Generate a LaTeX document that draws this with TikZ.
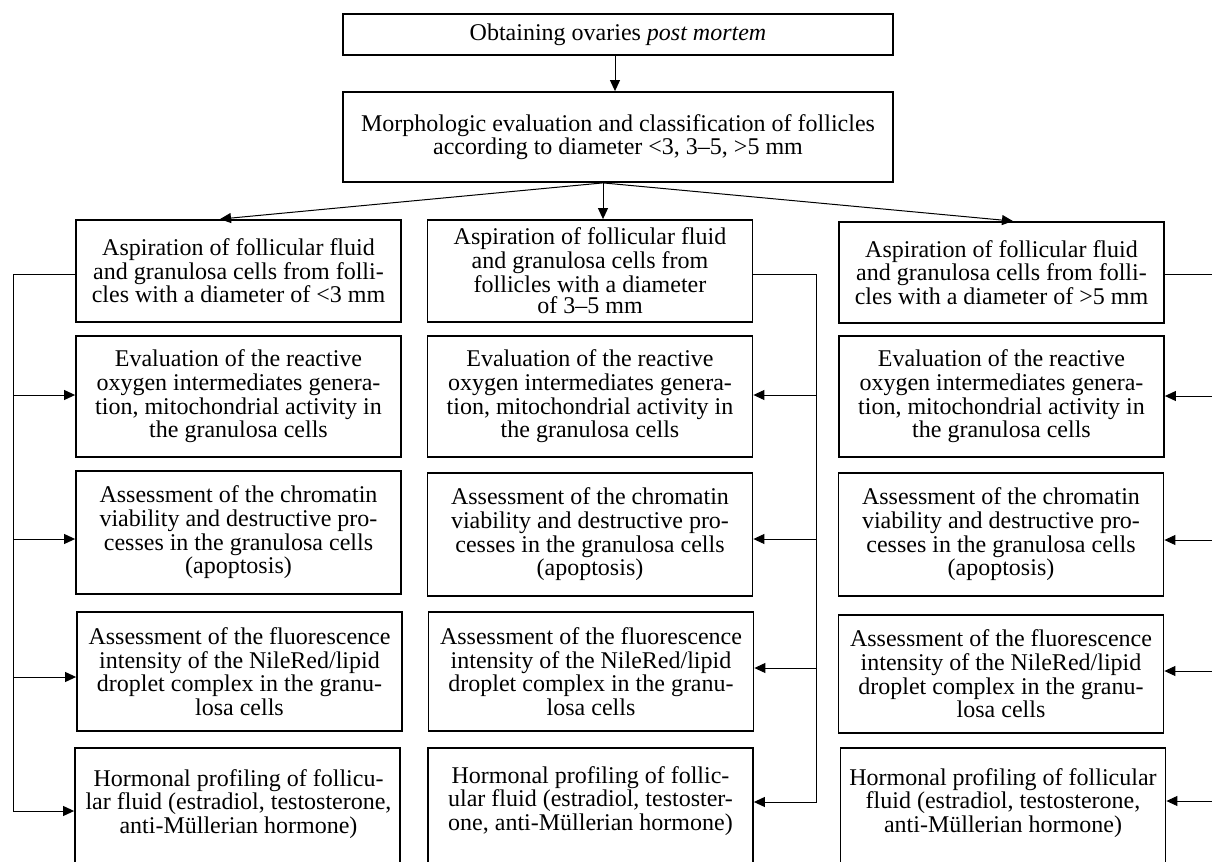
\documentclass[tikz,border=0pt]{standalone}
\usepackage{fontspec}
\setmainfont{Liberation Serif}
\usetikzlibrary{arrows.meta}
\begin{document}
\begin{tikzpicture}[x=0.5pt,y=-0.5pt,
  txtfont/.style={font=\fontsize{12pt}{11.8pt}\selectfont},
  box/.style={draw, line width=0.9pt, inner sep=0pt, align=center, txtfont},
  colbox/.style={box, minimum width=162.5pt},
  txt/.style={inner sep=0pt, align=center, txtfont},
  conn/.style={line width=0.5pt},
  arr/.style={conn, -{Triangle[length=5.5pt,width=5pt]}},
]
\useasboundingbox (0,0) rectangle (1212,862);
\begin{scope}
\clip (0,0) rectangle (1212,862);

% top boxes
\node[box, minimum width=275pt, minimum height=20.5pt] (top) at (618,34.5) {Obtaining ovaries \textit{post mortem}};
\node[box, minimum width=275pt, minimum height=45pt] (morph) at (618,137) {Morphologic evaluation and classification of follicles\\according to diameter <3, 3--5, >5 mm};

% column 1
\node[colbox, minimum height=51pt] (c1a) at (238.5,271) {Aspiration of follicular fluid\\and granulosa cells from folli-\\cles with a diameter of <3 mm};
\node[colbox, minimum height=60.5pt] (c1b) at (238.5,396.5) {Evaluation of the reactive\\oxygen intermediates genera-\\tion, mitochondrial activity in\\the granulosa cells};
\node[colbox, minimum height=61.5pt] (c1c) at (238.5,532.5) {Assessment of the chromatin\\viability and destructive pro-\\cesses in the granulosa cells\\(apoptosis)};
\node[colbox, minimum height=59.5pt] (c1d) at (239.5,671.5) {Assessment of the fluorescence\\intensity of the NileRed/lipid\\droplet complex in the granu-\\losa cells};
\node[colbox, minimum height=70pt, anchor=north] (c1e) at (237.5,747) {};
\node[txt] (c1et) at (238.5,804) {Hormonal profiling of follicu-\\lar fluid (estradiol, testosterone,\\anti-Müllerian hormone)};

% column 2
\node[colbox, minimum height=51pt, font=\fontsize{12pt}{10.6pt}\selectfont] (c2a) at (590,271) {Aspiration of follicular fluid\\and granulosa cells from\\follicles with a diameter\\of 3--5 mm};
\node[colbox, minimum height=60.5pt] (c2b) at (590,396.5) {Evaluation of the reactive\\oxygen intermediates genera-\\tion, mitochondrial activity in\\the granulosa cells};
\node[colbox, minimum height=61.5pt] (c2c) at (590,534.5) {Assessment of the chromatin\\viability and destructive pro-\\cesses in the granulosa cells\\(apoptosis)};
\node[colbox, minimum height=59.5pt] (c2d) at (591,671.5) {Assessment of the fluorescence\\intensity of the NileRed/lipid\\droplet complex in the granu-\\losa cells};
\node[colbox, minimum height=70pt, anchor=north] (c2e) at (590.5,747) {};
\node[txt] (c2et) at (590.5,801) {Hormonal profiling of follic-\\ular fluid (estradiol, testoster-\\one, anti-Müllerian hormone)};

% column 3
\node[colbox, minimum height=50.5pt] (c3a) at (1001.5,272.5) {Aspiration of follicular fluid\\and granulosa cells from folli-\\cles with a diameter of >5 mm};
\node[colbox, minimum height=60.5pt] (c3b) at (1001.5,396.5) {Evaluation of the reactive\\oxygen intermediates genera-\\tion, mitochondrial activity in\\the granulosa cells};
\node[colbox, minimum height=61.5pt] (c3c) at (1001,534.5) {Assessment of the chromatin\\viability and destructive pro-\\cesses in the granulosa cells\\(apoptosis)};
\node[colbox, minimum height=59pt] (c3d) at (1001,674) {Assessment of the fluorescence\\intensity of the NileRed/lipid\\droplet complex in the granu-\\losa cells};
\node[colbox, minimum height=70pt, anchor=north] (c3e) at (1003,747) {};
\node[txt] (c3et) at (1003,803) {Hormonal profiling of follicular\\fluid (estradiol, testosterone,\\anti-Müllerian hormone)};

% top connectors
\draw[arr] ([xshift=-1.5pt]top.south) -- ([xshift=-1.5pt]morph.north);
\coordinate (fan) at ([xshift=-7.5pt]morph.south);
\draw[arr] (fan) -- ([xshift=-9.25pt]c1a.north);
\draw[arr] (fan) -- ([xshift=6.5pt]c2a.north);
\draw[arr] (fan) -- ([xshift=5.75pt]c3a.north);

% left spine (column 1)
\coordinate (s1t) at (13,274);
\coordinate (s1b) at (13,395);
\coordinate (s1c) at (13,539);
\coordinate (s1d) at (13,677);
\coordinate (s1e) at (13,811);
\draw[arr] (c1a.west |- s1t) -- (s1t) -- (s1e) -- (s1e -| c1e.west);
\draw[arr] (s1b) -- (s1b -| c1b.west);
\draw[arr] (s1c) -- (s1c -| c1c.west);
\draw[arr] (s1d) -- (s1d -| c1d.west);

% column 2 spine
\coordinate (s2t) at (816,274);
\coordinate (s2b) at (816,395);
\coordinate (s2c) at (816,539);
\coordinate (s2d) at (816,668);
\coordinate (s2e) at (816,802);
\draw[arr] (c2a.east |- s2t) -- (s2t) -- (s2e) -- (s2e -| c2e.east);
\draw[arr] (s2b) -- (s2b -| c2b.east);
\draw[arr] (s2c) -- (s2c -| c2c.east);
\draw[arr] (s2d) -- (s2d -| c2d.east);

% column 3 spine (beyond right edge)
\coordinate (s3t) at (1218,274);
\coordinate (s3b) at (1218,396);
\coordinate (s3c) at (1218,540);
\coordinate (s3d) at (1218,671);
\coordinate (s3e) at (1218,801);
\draw[conn] (c3a.east |- s3t) -- (s3t) -- (s3e);
\draw[arr] (s3b) -- (s3b -| c3b.east);
\draw[arr] (s3c) -- (s3c -| c3c.east);
\draw[arr] (s3d) -- (s3d -| c3d.east);
\draw[arr] (s3e) -- (s3e -| c3e.east);
\end{scope}
\end{tikzpicture}
\end{document}
